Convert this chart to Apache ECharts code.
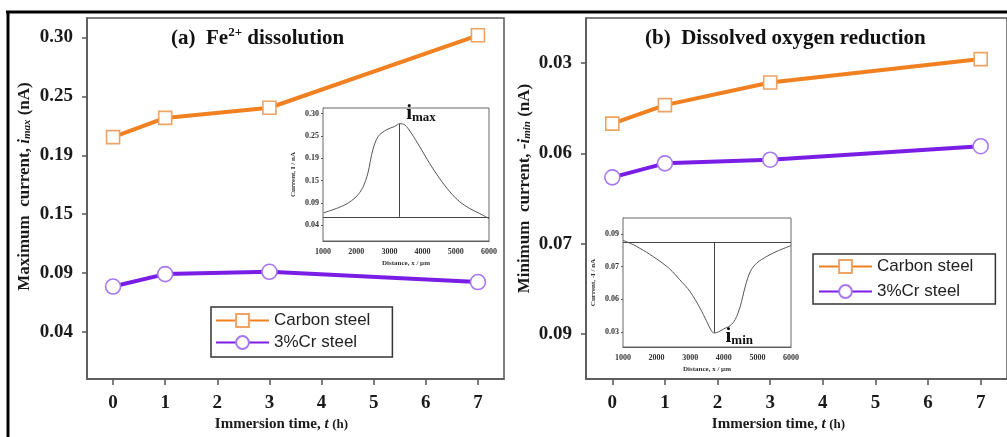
<!DOCTYPE html>
<html>
<head>
<meta charset="utf-8">
<script src="https://cdn.jsdelivr.net/npm/echarts@6/dist/echarts.min.js"></script>
<style>html,body{margin:0;padding:0;background:#fff}#c{width:1007px;height:437px}</style>
</head>
<body>
<div id="c"></div>
<script>
// ---------- data ----------
const tHours = [0, 1, 3, 7];
const xTicks = [0, 1, 2, 3, 4, 5, 6, 7];
// panel (a): maximum current (nA)
const carbonImax = [0.212, 0.229, 0.238, 0.302];
const crImax = [0.080, 0.091, 0.093, 0.084];
// panel (b): minimum current, -i_min (nA)
const carbonImin = [0.0434, 0.0393, 0.0343, 0.0291];
const crImin = [0.0553, 0.0522, 0.0514, 0.0484];
// y tick positions and printed labels (labels are unevenly valued in the original)
const imaxTickPos = [0.04, 0.092, 0.144, 0.196, 0.248, 0.30];
const imaxTickLabels = ['0.04', '0.09', '0.15', '0.19', '0.25', '0.30'];
const iminTickPos = [0.03, 0.05, 0.07, 0.09];
const iminTickLabels = ['0.03', '0.06', '0.07', '0.09'];
// inset (a): current profile across the scan
const insetADist = [1020, 1400, 1700, 2000, 2200, 2350, 2500, 2660, 2910, 3160, 3310, 3460, 3660, 3910, 4210, 4510, 4820, 5120, 5420, 5720, 6000];
const insetACurr = [0.0689, 0.079, 0.0892, 0.1064, 0.1282, 0.161, 0.2157, 0.2469, 0.2625, 0.2703, 0.2766, 0.2742, 0.2547, 0.2235, 0.1844, 0.1493, 0.1181, 0.0947, 0.079, 0.0673, 0.0556];
const insetAMark = { x: 3290, base: 0.0595, peak: 0.2766 };
// inset (b)
const insetBDist = [1000, 1300, 1700, 2100, 2390, 2690, 2990, 3290, 3490, 3640, 3710, 3840, 3990, 4190, 4340, 4490, 4640, 4790, 4980, 5280, 5580, 6000];
const insetBCurr = [0.0861, 0.0835, 0.0788, 0.0733, 0.0686, 0.0620, 0.0549, 0.0447, 0.0365, 0.0304, 0.0294, 0.0300, 0.0318, 0.0339, 0.0376, 0.0457, 0.0580, 0.0671, 0.0722, 0.0763, 0.0794, 0.0829];
const insetBMark = { x: 3715, base: 0.0851, low: 0.0294 };

// ---------- style ----------
const SERIF = '"Liberation Serif", "DejaVu Serif", serif';
const SANS = '"Liberation Sans", Arial, sans-serif';
const ORANGE = '#F08020', ORANGE_M = '#EBA466';
const PURPLE = '#7A1EE6', PURPLE_M = '#A877F0';
const AX = '#555';

function labeler(pos, labels) {
  return function (v) {
    for (let i = 0; i < pos.length; i++) if (Math.abs(pos[i] - v) < 1e-6) return labels[i];
    return '';
  };
}
const pairs = (xs, ys) => xs.map((x, i) => [x, ys[i]]);

const mainLabel = { fontFamily: SERIF, fontWeight: 'bold', fontSize: 19, color: '#1a1a1a' };
const insetLabel = { fontFamily: SERIF, fontWeight: 'bold', fontSize: 8, color: '#333' };

function carbonSeries(xi, yi, data) {
  return {
    name: 'Carbon steel', type: 'line', xAxisIndex: xi, yAxisIndex: yi, data: data,
    symbol: 'rect', symbolSize: 13,
    lineStyle: { color: ORANGE, width: 4 },
    itemStyle: { color: '#fff', borderColor: ORANGE_M, borderWidth: 1.6 },
    emphasis: { disabled: true }, z: 3
  };
}
function crSeries(xi, yi, data) {
  return {
    name: '3%Cr steel', type: 'line', xAxisIndex: xi, yAxisIndex: yi, data: data,
    symbol: 'circle', symbolSize: 15,
    lineStyle: { color: PURPLE, width: 4 },
    itemStyle: { color: '#fff', borderColor: PURPLE_M, borderWidth: 1.6 },
    emphasis: { disabled: true }, z: 3
  };
}
function mainX(gi, nameShift) {
  return {
    type: 'value', gridIndex: gi, min: -0.5, max: 7.5,
    axisLine: { onZero: false, lineStyle: { color: AX, width: 1.5 } },
    axisTick: { customValues: xTicks, length: 6, lineStyle: { color: AX, width: 1.5 } },
    axisLabel: Object.assign({ customValues: xTicks, margin: 14 }, mainLabel),
    splitLine: { show: false },
    name: 'Immersion time, {it|t} {h|(h)}', nameLocation: 'middle', nameGap: gi === 0 ? 34 : 31,
    nameTextStyle: {
      fontFamily: SERIF, fontWeight: 'bold', fontSize: 15, color: '#1a1a1a', padding: [0, nameShift, 0, 0],
      rich: { it: { fontFamily: SERIF, fontWeight: 'bold', fontStyle: 'italic', fontSize: 15, color: '#1a1a1a' },
              h: { fontFamily: SERIF, fontWeight: 'bold', fontSize: 13, color: '#1a1a1a' } }
    }
  };
}
function insetX(gi) {
  return {
    type: 'value', gridIndex: gi, min: 1000, max: 6000, interval: 1000,
    axisLine: { onZero: false, lineStyle: { color: AX, width: 1 } },
    axisTick: { show: false },
    axisLabel: Object.assign({ margin: 7, formatter: function (v) { return String(v); } }, insetLabel),
    splitLine: { show: false },
    name: 'Distance, x / µm', nameLocation: 'middle', nameGap: 19,
    nameTextStyle: { fontFamily: SERIF, fontWeight: 'bold', fontSize: 7, color: '#333' }
  };
}
function insetSeries(xi, yi, data, lines, markCoord, labelText, offset) {
  return {
    type: 'line', xAxisIndex: xi, yAxisIndex: yi, data: data, showSymbol: false, smooth: 0.3,
    lineStyle: { color: '#555', width: 1 }, silent: true, z: 5,
    markLine: { silent: true, symbol: 'none', animation: false,
      lineStyle: { color: '#444', width: 1, type: 'solid' }, label: { show: false }, data: lines },
    markPoint: { silent: true, animation: false, symbol: 'circle', symbolSize: 1,
      itemStyle: { color: 'rgba(0,0,0,0)' },
      data: [{ coord: markCoord, label: { show: true, offset: offset, formatter: labelText,
        rich: { i: { fontFamily: SERIF, fontWeight: 'bold', fontSize: 21, color: '#111' },
                s: { fontFamily: SERIF, fontWeight: 'bold', fontSize: 13, color: '#111', verticalAlign: 'bottom', padding: [8, 0, 0, 0] } } } }] }
  };
}
function mainY(gi, extra) {
  return Object.assign({
    type: 'value', gridIndex: gi,
    axisLine: { show: true, onZero: false, lineStyle: { color: AX, width: 1.5 } },
    splitLine: { show: false }
  }, extra);
}

const chart = echarts.init(document.getElementById('c'), null, { renderer: 'canvas' });
const titleRich = {
  a: { fontFamily: SERIF, fontWeight: 'bold', fontSize: 21, color: '#111', lineHeight: 26 },
  sup: { fontFamily: SERIF, fontWeight: 'bold', fontSize: 13, color: '#111', lineHeight: 14, verticalAlign: 'top' }
};
const legendBase = {
  orient: 'vertical', data: ['Carbon steel', '3%Cr steel'], itemWidth: 53, itemHeight: 16,
  backgroundColor: '#fff', borderColor: '#333', borderWidth: 1.5, borderRadius: 0,
  selectedMode: false,
  textStyle: { fontFamily: SANS, fontSize: 17, color: '#222', letterSpacing: -0.6 }
};
const yNameRich = {
  i: { fontFamily: SERIF, fontStyle: 'italic', fontSize: 17, color: '#1a1a1a' },
  s: { fontFamily: SERIF, fontStyle: 'italic', fontSize: 11, color: '#1a1a1a', verticalAlign: 'bottom' }
};

chart.setOption({
  animation: false,
  title: [
    { text: '{a|(a)  Fe}{sup|2+}{a| dissolution}', left: 166, top: 21, textStyle: { rich: titleRich } },
    { text: '{a|(b)  Dissolved oxygen reduction}', left: 640, top: 21, textStyle: { rich: titleRich } }
  ],
  legend: [
    Object.assign({ left: 211, top: 307, itemGap: 5, padding: [5, 22, 6, 4] }, legendBase),
    Object.assign({ left: 813, top: 254, itemGap: 8, padding: [4, 22, 4, 5] }, legendBase)
  ],
  grid: [
    { left: 87, top: 18, width: 417, height: 364, show: true, borderColor: AX, borderWidth: 1.5, backgroundColor: 'transparent' },
    { left: 586, top: 18, width: 424, height: 363, show: true, borderColor: AX, borderWidth: 1.5, backgroundColor: 'transparent' },
    { left: 323, top: 108, width: 166, height: 133, show: true, borderColor: '#666', borderWidth: 1, backgroundColor: '#fff', z: 4 },
    { left: 623, top: 218, width: 168, height: 129, show: true, borderColor: '#666', borderWidth: 1, backgroundColor: '#fff', z: 4 }
  ],
  xAxis: [mainX(0, 28), mainX(1, 36), insetX(2), insetX(3)],
  yAxis: [
    mainY(0, {
      min: -0.0018, max: 0.3173,
      axisTick: { show: true, customValues: imaxTickPos, length: 5, lineStyle: { color: AX, width: 1.5 } },
      axisLabel: Object.assign({ customValues: imaxTickPos, margin: 14, formatter: labeler(imaxTickPos, imaxTickLabels) }, mainLabel),
      name: 'Maximum  current, {i|i}{s|max} (nA)', nameLocation: 'middle', nameGap: 54,
      nameTextStyle: { fontFamily: SERIF, fontWeight: 'bold', fontSize: 17, color: '#1a1a1a', padding: [0, 0, 0, 24], rich: yNameRich }
    }),
    mainY(1, {
      min: 0.02, max: 0.10, inverse: true,
      axisTick: { show: true, customValues: iminTickPos, length: 5, lineStyle: { color: AX, width: 1.5 } },
      axisLabel: Object.assign({ customValues: iminTickPos, margin: 14, formatter: labeler(iminTickPos, iminTickLabels) }, mainLabel),
      name: 'Minimum  current, -{i|i}{s|min} (nA)', nameLocation: 'middle', nameGap: 53,
      nameTextStyle: { fontFamily: SERIF, fontWeight: 'bold', fontSize: 17, color: '#1a1a1a', padding: [0, 0, 0, 20], rich: yNameRich }
    }),
    {
      type: 'value', gridIndex: 2, min: 0.0033, max: 0.3133,
      axisLine: { show: true, onZero: false, lineStyle: { color: AX, width: 1 } },
      axisTick: { show: true, customValues: imaxTickPos, length: 2, lineStyle: { color: AX } },
      axisLabel: Object.assign({ customValues: imaxTickPos, margin: 4, formatter: labeler(imaxTickPos, imaxTickLabels) }, insetLabel),
      splitLine: { show: false },
      name: 'Current, I / nA', nameLocation: 'middle', nameGap: 26,
      nameTextStyle: { fontFamily: SERIF, fontWeight: 'bold', fontSize: 7, color: '#333' }
    },
    {
      type: 'value', gridIndex: 3, min: 0.0208, max: 0.0998,
      axisLine: { show: true, onZero: false, lineStyle: { color: AX, width: 1 } },
      axisTick: { show: true, customValues: iminTickPos, length: 2, lineStyle: { color: AX } },
      axisLabel: Object.assign({ customValues: iminTickPos, margin: 4, formatter: labeler(iminTickPos, iminTickLabels) }, insetLabel),
      splitLine: { show: false },
      name: 'Current, -I / nA', nameLocation: 'middle', nameGap: 26,
      nameTextStyle: { fontFamily: SERIF, fontWeight: 'bold', fontSize: 7, color: '#333' }
    }
  ],
  series: [
    carbonSeries(0, 0, pairs(tHours, carbonImax)),
    crSeries(0, 0, pairs(tHours, crImax)),
    carbonSeries(1, 1, pairs(tHours, carbonImin)),
    crSeries(1, 1, pairs(tHours, crImin)),
    insetSeries(2, 2, pairs(insetADist, insetACurr),
      [[{ coord: [1000, insetAMark.base] }, { coord: [6000, insetAMark.base] }],
       [{ coord: [insetAMark.x, insetAMark.base] }, { coord: [insetAMark.x, insetAMark.peak] }]],
      [insetAMark.x, insetAMark.peak], '{i|i}{s|max}', [22, -10]),
    insetSeries(3, 3, pairs(insetBDist, insetBCurr),
      [[{ coord: [1000, insetBMark.base] }, { coord: [6000, insetBMark.base] }],
       [{ coord: [insetBMark.x, insetBMark.base] }, { coord: [insetBMark.x, insetBMark.low] }]],
      [insetBMark.x, insetBMark.low], '{i|i}{s|min}', [25, 4])
  ],
  graphic: [
    { type: 'line', shape: { x1: 6, y1: 12, x2: 1007, y2: 12 }, style: { stroke: '#000', lineWidth: 3 }, silent: true },
    { type: 'line', shape: { x1: 8, y1: 11, x2: 8, y2: 437 }, style: { stroke: '#000', lineWidth: 3 }, silent: true }
  ]
});
</script>
</body>
</html>
